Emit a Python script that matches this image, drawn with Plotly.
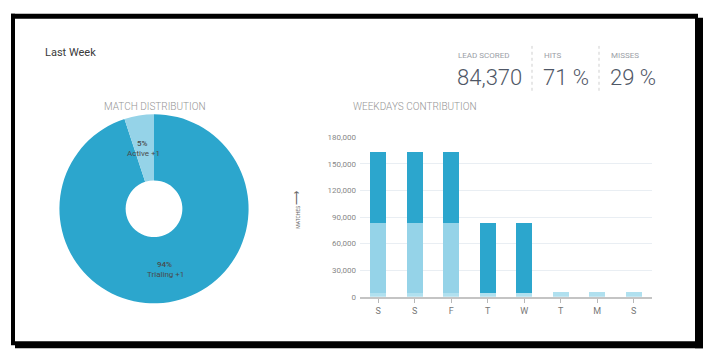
import plotly.graph_objects as go

W, H = 710, 360

# ---- data ----
pie_labels = ["Trialing", "Active"]
pie_values = [94, 5]
pie_text_pct = ["94%", "5%"]
pie_text_name = ["Trialing +1", "Active +1"]

days = ["Sun", "Sat", "Fri", "Thu", "Wed", "Tue", "Mon", "Sun (prev)"]
day_ticks = ["S", "S", "F", "T", "W", "T", "M", "S"]
base_vals = [4000, 4000, 4000, 4000, 4000, 5000, 5000, 5000]
light_vals = [79600, 79600, 79500, 0, 0, 0, 0, 0]
dark_vals = [80000, 80000, 79800, 79600, 79600, 0, 0, 0]
y_ticks = [0, 30000, 60000, 90000, 120000, 150000, 180000]

stat_titles = ["LEAD SCORED", "HITS", "MISSES"]
stat_values = ["84,370", "71 %", "29 %"]

DARK = "#2ca6cd"
LIGHT = "#95d3e8"
BASE = "#b0e0ef"
FONT = "Roboto"


def px(x):
    return x / W


def py(y):
    return 1 - y / H


fig = go.Figure()

fig.add_trace(go.Pie(
    labels=pie_labels, values=pie_values, hole=0.3, sort=False,
    direction="clockwise", rotation=0,
    marker=dict(colors=[DARK, LIGHT], line=dict(width=0)),
    textinfo="none", hoverinfo="label+percent", showlegend=False,
    domain=dict(x=[px(57), px(251)], y=[py(307), py(113)]),
))

idx = list(range(len(days)))
for vals, col, name in [(base_vals, BASE, "Base"), (light_vals, LIGHT, "Active"), (dark_vals, DARK, "Trialing")]:
    fig.add_trace(go.Bar(x=idx, y=vals, marker=dict(color=col, line=dict(width=0)),
                         name=name, showlegend=False, hovertext=days))

fig.update_layout(
    width=W, height=H, margin=dict(l=0, r=0, t=0, b=0),
    paper_bgcolor="white", plot_bgcolor="white",
    font=dict(family=FONT, color="#555"),
    barmode="stack", bargap=0.56,
    xaxis=dict(domain=[px(360), px(652)], range=[-0.5, 7.5],
               tickmode="array", tickvals=idx, ticktext=day_ticks,
               ticks="outside", tickson="boundaries", ticklen=4, tickcolor="#b8b8b8",
               showline=True, linecolor="#c4c4c4", linewidth=2,
               showgrid=False, zeroline=False,
               tickfont=dict(size=9, color="#777", family=FONT)),
    yaxis=dict(domain=[py(300.3), py(136.7)], range=[0, 180000],
               tickmode="array", tickvals=y_ticks, tickformat=",d",
               showgrid=True, gridcolor="#e9eef3", gridwidth=1,
               zeroline=False, showline=False, ticks="", ticklabelstandoff=3,
               tickfont=dict(size=8, color="#888", family=FONT)),
)

shapes = []
# card border / shadow
for x0, y0, x1, y1 in [(11, 10, 15, 350), (11, 10, 698, 15), (695, 14, 703, 353), (15, 346, 703, 353)]:
    shapes.append(dict(type="rect", xref="paper", yref="paper", x0=px(x0), x1=px(x1),
                       y0=py(y1), y1=py(y0), fillcolor="black", line=dict(width=0), layer="above"))
for sx in [532, 599]:
    shapes.append(dict(type="line", xref="paper", yref="paper", x0=px(sx), x1=px(sx),
                       y0=py(89), y1=py(43), line=dict(color="#cfcfcf", width=1, dash="dot")))
fig.update_layout(shapes=shapes)

ann = []


def add(x, y, text, size, color, xanchor="left", weight="normal", **kw):
    ann.append(dict(x=px(x), y=py(y), xref="paper", yref="paper", text=text, showarrow=False,
                    xanchor=xanchor, yanchor="middle",
                    font=dict(size=size, color=color, family=FONT, weight=weight), **kw))


add(43, 50, "Last Week", 11, "#3a3a3a")
for title, val, x in zip(stat_titles, stat_values, [457, 543, 610]):
    add(x - 1, 53, title, 8, "#9a9ea6")
    add(x - 2, 75.5, val, 22, "#4f5766", weight=300)
add(155, 105, "MATCH DISTRIBUTION", 10, "#959595", xanchor="center", weight=300)
add(351, 105, "WEEKDAYS CONTRIBUTION", 10, "#959595", weight=300)
# pie labels
for (lx, ly), pct, nm in zip([(164, 267), (142, 143)], pie_text_pct, pie_text_name):
    add(lx, ly, pct, 8, "#4a4a4a", xanchor="center", weight=500)
    add(lx + 1, ly + 10, nm, 8, "#4a4a4a", xanchor="center")
# y-axis title
add(297, 211, "MATCHES <span style='font-size:10px'>⟶</span>", 5, "#666",
    xanchor="center", textangle=-90)
fig.update_layout(annotations=ann)

fig.write_html("out.html", config={"displayModeBar": False},
               post_script="document.body.style.margin='0';")
